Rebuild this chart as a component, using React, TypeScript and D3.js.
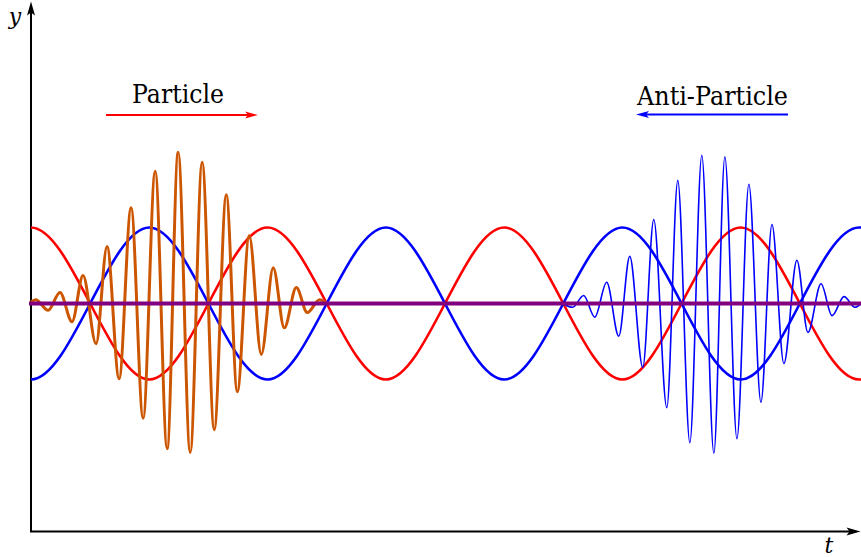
import React from "react";
import * as d3 from "d3";

// x in units of the carrier half-period (cosine extremum every 1 unit), y in amplitude units
const cosExtremaX = [-1, 0, 1, 2, 3, 4, 5, 6, 7, 8];
const redCosY = [-1, 1, -1, 1, -1, 1, -1, 1, -1, 1];
const blueCosY = [1, -1, 1, -1, 1, -1, 1, -1, 1, -1];

const particleX = [0, 0.04, 0.145, 0.245, 0.347, 0.44, 0.55, 0.643, 0.745, 0.846, 0.948, 1.05, 1.151, 1.244, 1.346, 1.447, 1.549, 1.651, 1.744, 1.845, 1.947, 2.048, 2.141, 2.243, 2.336, 2.44, 2.5];
const particleY = [0.02, 0.05, -0.09, 0.145, -0.24, 0.37, -0.53, 0.75, -0.99, 1.26, -1.51, 1.74, -1.91, 1.99, -1.96, 1.86, -1.66, 1.43, -1.16, 0.89, -0.67, 0.47, -0.32, 0.21, -0.12, 0.05, 0];

const antiX = [4.495, 4.579, 4.672, 4.766, 4.867, 4.969, 5.062, 5.172, 5.265, 5.375, 5.468, 5.57, 5.671, 5.773, 5.866, 5.968, 6.069, 6.171, 6.264, 6.365, 6.475, 6.568, 6.679, 6.772, 6.874, 6.966, 7.03];
const antiY = [0, -0.05, 0.105, -0.18, 0.28, -0.43, 0.62, -0.84, 1.105, -1.37, 1.62, -1.83, 1.95, -1.97, 1.93, -1.78, 1.57, -1.3, 1.04, -0.79, 0.57, -0.38, 0.26, -0.16, 0.09, -0.05, 0.02];

const labels = ["Particle", "Anti-Particle"];
const axisLabels = ["y", "t"];

export default function App() {
  const W = 861, H = 557;
  const x = d3.scaleLinear().domain([0, 7]).range([31, 859]);
  const y = d3.scaleLinear().domain([-1, 1]).range([379.5, 227.5]);

  const line = d3
    .line<[number, number]>()
    .x((d) => x(d[0]))
    .y((d) => y(d[1]))
    .curve(d3.curveMonotoneX);

  const zip = (xs: number[], ys: number[]) => xs.map((v, i) => [v, ys[i]] as [number, number]);

  const x0 = x(0);
  const yAxis = y(-3);
  const yTop = 1.5;
  const xEnd = 860.5;
  const serif = "DejaVu Serif";

  const arrowHead = (tipX: number, tipY: number, dir: "up" | "right" | "left", color: string, len = 13, hw = 4) => {
    let pts: [number, number][] = [];
    if (dir === "up") pts = [[tipX, tipY], [tipX - hw, tipY + len], [tipX, tipY + len - 3], [tipX + hw, tipY + len]];
    if (dir === "right") pts = [[tipX, tipY], [tipX - len, tipY - hw], [tipX - len + 3, tipY], [tipX - len, tipY + hw]];
    if (dir === "left") pts = [[tipX, tipY], [tipX + len, tipY - hw], [tipX + len - 3, tipY], [tipX + len, tipY + hw]];
    return <path d={"M" + pts.map((p) => p.join(",")).join("L") + "Z"} fill={color} stroke="none" />;
  };

  return (
    <div style={{ position: "absolute", left: 0, top: 0 }}>
      <svg width={W} height={H} style={{ display: "block", background: "#fff" }}>
        <defs>
          <clipPath id="plotclip">
            <rect x={x(0)} y={0} width={x(7) - x(0) + 2} height={H} />
          </clipPath>
        </defs>
        {/* axes */}
        <line x1={x0} y1={yAxis} x2={x0} y2={yTop + 10} stroke="#000" strokeWidth={2} />
        <line x1={x0 - 1} y1={yAxis} x2={xEnd - 10} y2={yAxis} stroke="#000" strokeWidth={2} />
        {arrowHead(x0, yTop, "up", "#000", 14, 4)}
        {arrowHead(xEnd, yAxis, "right", "#000", 14, 4)}
        <text x={15} y={24} fontFamily={serif} fontStyle="italic" fontSize={22} textAnchor="middle">{axisLabels[0]}</text>
        <text x={829} y={553} fontFamily={serif} fontStyle="italic" fontSize={22} textAnchor="middle">{axisLabels[1]}</text>

        <g clipPath="url(#plotclip)">
          <path d={line(zip(cosExtremaX, redCosY)) || ""} fill="none" stroke="#ff0000" strokeWidth={2.6} />
          <path d={line(zip(cosExtremaX, blueCosY)) || ""} fill="none" stroke="#0000ff" strokeWidth={2.6} />
        </g>
        <path d={line(zip(particleX, particleY)) || ""} fill="none" stroke="#cc5500" strokeWidth={3} />
        <path d={line(zip(antiX, antiY)) || ""} fill="none" stroke="#0000ff" strokeWidth={1.6} />
        <line x1={29} y1={y(0)} x2={W} y2={y(0)} stroke="#800080" strokeWidth={4} />

        {/* labels */}
        <text x={178} y={102.5} fontFamily={serif} fontSize={25.5} textLength={92} lengthAdjust="spacingAndGlyphs" textAnchor="middle">{labels[0]}</text>
        <line x1={106} y1={115} x2={248} y2={115} stroke="#ff0000" strokeWidth={2} />
        {arrowHead(258, 115, "right", "#ff0000", 13, 3.5)}

        <text x={712.5} y={104.5} fontFamily={serif} fontSize={25.5} textLength={151} lengthAdjust="spacingAndGlyphs" textAnchor="middle">{labels[1]}</text>
        <line x1={646} y1={114.5} x2={788} y2={114.5} stroke="#0000ff" strokeWidth={2} />
        {arrowHead(636, 114.5, "left", "#0000ff", 13, 3.5)}
      </svg>
    </div>
  );
}
